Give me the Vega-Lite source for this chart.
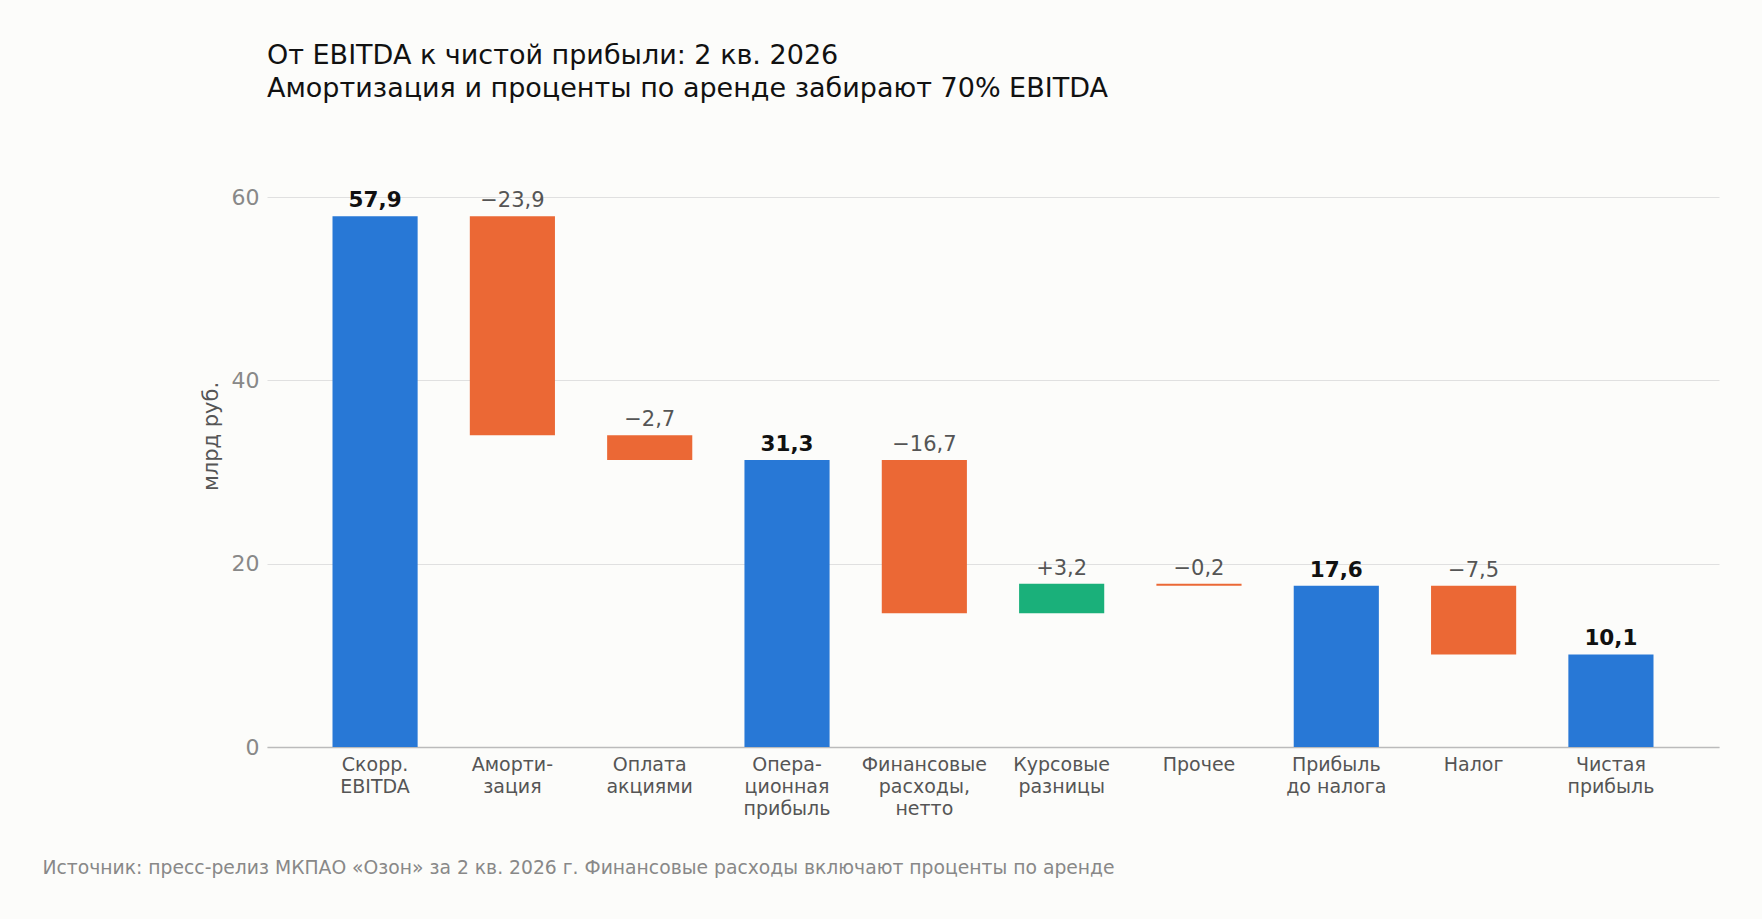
{
  "$schema": "https://vega.github.io/schema/vega-lite/v6.json",
  "width": 1452,
  "height": 550,
  "autosize": {"type": "none"},
  "padding": {"left": 267, "top": 197, "right": 43, "bottom": 172},
  "background": "#fcfcfa",
  "title": {
    "text": ["От EBITDA к чистой прибыли: 2 кв. 2026", "Амортизация и проценты по аренде забирают 70% EBITDA"],
    "anchor": "start",
    "frame": "group",
    "fontSize": 27,
    "fontWeight": "normal",
    "color": "#111111",
    "lineHeight": 33,
    "offset": 83
  },
  "data": {
    "values": [
      {"cat": "Скорр.|EBITDA", "lo": 0, "hi": 57.9, "kind": "total", "label": "57,9"},
      {"cat": "Аморти-|зация", "lo": 34.0, "hi": 57.9, "kind": "neg", "label": "−23,9"},
      {"cat": "Оплата|акциями", "lo": 31.3, "hi": 34.0, "kind": "neg", "label": "−2,7"},
      {"cat": "Опера-|ционная|прибыль", "lo": 0, "hi": 31.3, "kind": "total", "label": "31,3"},
      {"cat": "Финансовые|расходы,|нетто", "lo": 14.6, "hi": 31.3, "kind": "neg", "label": "−16,7"},
      {"cat": "Курсовые|разницы", "lo": 14.6, "hi": 17.8, "kind": "pos", "label": "+3,2"},
      {"cat": "Прочее", "lo": 17.6, "hi": 17.8, "kind": "neg", "label": "−0,2"},
      {"cat": "Прибыль|до налога", "lo": 0, "hi": 17.6, "kind": "total", "label": "17,6"},
      {"cat": "Налог", "lo": 10.1, "hi": 17.6, "kind": "neg", "label": "−7,5"},
      {"cat": "Чистая|прибыль", "lo": 0, "hi": 10.1, "kind": "total", "label": "10,1"}
    ]
  },
  "encoding": {
    "x": {
      "field": "cat",
      "type": "nominal",
      "sort": null,
      "scale": {"paddingInner": 0.38, "paddingOuter": 0.477},
      "axis": {
        "labelAngle": 0,
        "labelFontSize": 19,
        "labelColor": "#555555",
        "labelLineHeight": 22,
        "labelPadding": 8,
        "labelBaseline": "top",
        "labelExpr": "split(datum.label, '|')",
        "ticks": false,
        "domainColor": "#bbbbbb",
        "domainWidth": 1.5,
        "title": "Источник: пресс-релиз МКПАО «Озон» за 2 кв. 2026 г. Финансовые расходы включают проценты по аренде",
        "titleX": -225,
        "titleY": 126,
        "titleAlign": "left",
        "titleBaseline": "alphabetic",
        "titleFontSize": 18.75,
        "titleFontWeight": "normal",
        "titleColor": "#888888"
      }
    }
  },
  "layer": [
    {
      "mark": {"type": "bar"},
      "encoding": {
        "y": {
          "field": "hi",
          "type": "quantitative",
          "scale": {"domain": [0, 60], "nice": false},
          "axis": {
            "values": [0, 20, 40, 60],
            "labelFontSize": 22,
            "labelColor": "#888888",
            "labelPadding": 8,
            "domain": false,
            "ticks": false,
            "gridColor": "#e0e0e0",
            "gridWidth": 1,
            "title": "млрд руб.",
            "titleY": 239,
            "titleFontSize": 21,
            "titleFontWeight": "normal",
            "titleColor": "#555555",
            "titlePadding": 10
          }
        },
        "y2": {"field": "lo"},
        "color": {
          "field": "kind",
          "type": "nominal",
          "scale": {"domain": ["total", "neg", "pos"], "range": ["#2878d6", "#eb6835", "#1ab07a"]},
          "legend": null
        }
      }
    },
    {
      "transform": [{"filter": "datum.kind === 'total'"}],
      "mark": {"type": "text", "baseline": "alphabetic", "dy": -9, "fontSize": 21.5, "fontWeight": "bold", "color": "#111111"},
      "encoding": {
        "y": {"field": "hi", "type": "quantitative"},
        "text": {"field": "label"}
      }
    },
    {
      "transform": [{"filter": "datum.kind !== 'total'"}],
      "mark": {"type": "text", "baseline": "alphabetic", "dy": -9, "fontSize": 21, "color": "#555555"},
      "encoding": {
        "y": {"field": "hi", "type": "quantitative"},
        "text": {"field": "label"}
      }
    }
  ],
  "config": {
    "font": "DejaVu Sans",
    "view": {"stroke": null}
  }
}
